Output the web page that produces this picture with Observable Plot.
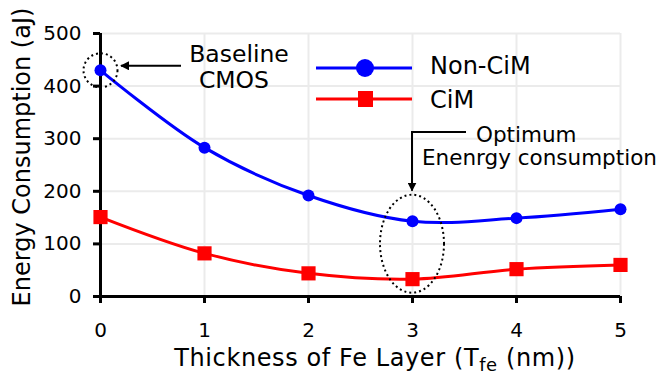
<!DOCTYPE html>
<html>
<head>
<meta charset="utf-8">
<script src="https://cdn.jsdelivr.net/npm/d3@7"></script>
<script src="https://cdn.jsdelivr.net/npm/@observablehq/plot@0.6"></script>
<style>
  body { margin: 0; background: #fff; }
  svg { font-family: "DejaVu Sans", Verdana, sans-serif; }
</style>
</head>
<body>
<div id="chart"></div>
<script>
// Energy per operation vs. Fe layer thickness
const thickness = [0, 1, 2, 3, 4, 5];
const nonCimEnergy = [430, 283, 192, 143, 149, 166];
const cimEnergy = [151, 82, 44, 33, 52, 60];
const yTicks = [0, 100, 200, 300, 400, 500];
const seriesNames = ["Non-CiM", "CiM"];
const seriesColors = ["#0000ff", "#ff0000"];

const toRows = (vals, name) => thickness.map((t, i) => ({t, e: vals[i], s: name}));
const nonRows = toRows(nonCimEnergy, seriesNames[0]);
const cimRows = toRows(cimEnergy, seriesNames[1]);

const font = "DejaVu Sans, Verdana, sans-serif";

const plot = Plot.plot({
  width: 664,
  height: 379,
  marginLeft: 100,
  marginRight: 44,
  marginTop: 33,
  marginBottom: 83,
  style: {fontFamily: font, fontSize: "20px", color: "#000", background: "#fff", overflow: "visible"},
  x: {domain: [0, 5]},
  y: {domain: [0, 500]},
  marks: [
    Plot.gridX(thickness, {stroke: "#ebebeb", strokeOpacity: 1, strokeWidth: 2}),
    Plot.gridY(yTicks, {stroke: "#ebebeb", strokeOpacity: 1, strokeWidth: 2}),
    Plot.axisX(thickness, {tickSize: 7, tickPadding: 19, strokeWidth: 3, fontSize: 20, label: null}),
    Plot.axisY(yTicks, {tickSize: 7, tickPadding: 12, strokeWidth: 3, fontSize: 20, label: null}),
    Plot.ruleX([0], {strokeWidth: 3}),
    Plot.ruleY([0], {strokeWidth: 3}),
    Plot.line(nonRows, {x: "t", y: "e", stroke: seriesColors[0], strokeWidth: 3, curve: "catmull-rom"}),
    Plot.line(cimRows, {x: "t", y: "e", stroke: seriesColors[1], strokeWidth: 3, curve: "catmull-rom"}),
    Plot.dot(nonRows, {x: "t", y: "e", r: 6, fill: seriesColors[0]}),
    Plot.dot(cimRows, {x: "t", y: "e", r: 8, symbol: "square", fill: seriesColors[1]}),
    // dotted ring around the baseline CMOS point
    Plot.dot([nonRows[0]], {x: "t", y: "e", r: 17, fill: "none", stroke: "#000", strokeWidth: 2, strokeDasharray: "2,3"}),
    Plot.text(["Energy Consumption (aJ)"], {
      frameAnchor: "left", textAnchor: "middle", rotate: -90,
      dx: -78, dy: -8, fontSize: 24, fill: "#000"
    })
  ]
});

document.getElementById("chart").appendChild(plot);

const svg = d3.select(plot);
const xs = plot.scale("x"), ys = plot.scale("y");
const X = v => xs.apply(v), Y = v => ys.apply(v);

// arrowhead
svg.append("defs").append("marker")
  .attr("id", "head").attr("viewBox", "0 0 10 10").attr("refX", 9).attr("refY", 5)
  .attr("markerWidth", 9).attr("markerHeight", 9).attr("markerUnits", "userSpaceOnUse")
  .attr("orient", "auto")
  .append("path").attr("d", "M0,0L10,5L0,10Z").attr("fill", "#000");

// x axis title with subscript
const xt = svg.append("text")
  .attr("x", (X(0) + X(5)) / 2 + 15).attr("y", 366)
  .attr("text-anchor", "middle").attr("font-size", 24).attr("letter-spacing", 0.6).attr("fill", "#000");
xt.append("tspan").text("Thickness of Fe Layer (T");
xt.append("tspan").attr("font-size", 18).attr("dy", 5).text("fe");
xt.append("tspan").attr("dy", -5).text(" (nm))");

// Baseline CMOS annotation
const bx = X(0), by = Y(nonCimEnergy[0]);
svg.append("line").attr("x1", bx + 81).attr("y1", by - 4).attr("x2", bx + 21).attr("y2", by - 4)
  .attr("stroke", "#000").attr("stroke-width", 2).attr("marker-end", "url(#head)");
svg.append("text").attr("x", bx + 139).attr("y", by - 8).attr("text-anchor", "middle")
  .attr("font-size", 23.5).text("Baseline");
svg.append("text").attr("x", bx + 134).attr("y", by + 18).attr("text-anchor", "middle")
  .attr("font-size", 23.5).text("CMOS");

// Optimum annotation around the 3 nm point
const ox = X(3);
const oy = (Y(nonCimEnergy[3]) + Y(cimEnergy[3])) / 2 - 6;
svg.append("ellipse").attr("cx", ox).attr("cy", oy).attr("rx", 32).attr("ry", 49)
  .attr("fill", "none").attr("stroke", "#000").attr("stroke-width", 2).attr("stroke-dasharray", "2,3");
svg.append("path").attr("d", `M${ox + 54},132H${ox}V${oy - 53}`)
  .attr("fill", "none").attr("stroke", "#000").attr("stroke-width", 2).attr("marker-end", "url(#head)");
svg.append("text").attr("x", ox + 64).attr("y", 142).attr("text-anchor", "start")
  .attr("font-size", 21.5).text("Optimum");
svg.append("text").attr("x", ox + 10).attr("y", 165).attr("text-anchor", "start")
  .attr("font-size", 21.5).text("Enenrgy consumption");

// legend
const legend = svg.append("g");
seriesNames.forEach((name, i) => {
  const ly = [68, 99][i];
  legend.append("line").attr("x1", 316).attr("x2", 412).attr("y1", ly).attr("y2", ly)
    .attr("stroke", seriesColors[i]).attr("stroke-width", 3);
  if (i === 0) {
    legend.append("circle").attr("cx", 365).attr("cy", ly).attr("r", 9).attr("fill", seriesColors[i]);
  } else {
    legend.append("rect").attr("x", 358).attr("y", ly - 8).attr("width", 15).attr("height", 16).attr("fill", seriesColors[i]);
  }
  legend.append("text").attr("x", 430).attr("y", ly + 6 + (i ? 3 : 0)).attr("text-anchor", "start")
    .attr("font-size", 24).text(name);
});
</script>
</body>
</html>
